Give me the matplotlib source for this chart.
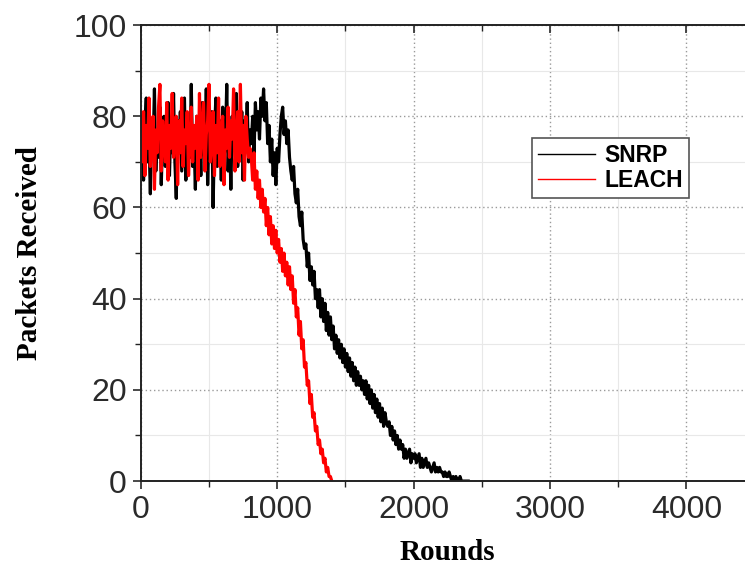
import matplotlib
matplotlib.use("Agg")
import matplotlib.pyplot as plt
from matplotlib.ticker import MultipleLocator
from matplotlib.lines import TICKDOWN

# ---- data ----
rounds_snrp = list(range(0, 2410, 10))
snrp = [
    72, 80, 66, 78, 84, 70, 75, 63, 79, 73,
    86, 68, 77, 71, 82, 65, 76, 80, 69, 74,
    83, 67, 78, 72, 85, 70, 62, 79, 74, 81,
    68, 76, 84, 66, 73, 79, 71, 87, 69, 75,
    64, 80, 72, 78, 67, 83, 74, 70, 86, 65,
    77, 73, 81, 60, 76, 84, 69, 75, 79, 66,
    82, 71, 74, 87, 68, 78, 64, 80, 73, 77,
    85, 69, 76, 72, 81, 66, 79, 74, 83, 70,
    77,
    74, 80, 72, 83, 77, 81, 75, 84, 80, 86,
    79, 83, 74, 78, 70, 75, 67, 72, 65, 73,
    70, 76, 80, 82, 76, 79, 74, 77, 71, 68,
    66, 69, 63, 61, 64, 58, 56, 59, 53, 51,
    52, 47, 50, 44, 47, 43, 46, 40, 42, 38,
    42, 36, 40, 35, 39, 33, 37, 32, 36, 31,
    34, 29, 32, 28, 31, 27, 30, 26, 29, 25,
    28, 24, 27, 23, 26, 22, 25, 21, 24, 21,
    23, 20, 22, 19, 22, 18, 21, 17, 20, 16,
    19, 15, 18, 14, 17, 13, 16, 12, 15, 13,
    12, 13, 10, 12, 9, 11, 8, 10, 7, 9,
    7, 8, 5, 7, 5, 6, 7, 4, 6, 5,
    6, 4, 5, 6, 3, 5, 3, 4, 5, 3,
    4, 3, 2, 3, 4, 2, 3, 2, 3, 2,
    2, 1, 2, 1, 1, 2, 1, 0, 1, 0,
    1, 0, 0, 1, 0, 0, 0, 0, 0, 0,
]

rounds_leach = list(range(0, 1410, 10))
leach = [
    76, 70, 81, 67, 78, 73, 84, 69, 75, 80,
    64, 77, 72, 82, 87, 68, 79, 74, 70, 83,
    66, 78, 73, 85, 71, 76, 80, 65, 79, 72,
    84, 69, 77, 74, 81, 67, 75, 82, 70, 78,
    73, 80, 66, 85, 71, 77, 83, 68, 76, 79,
    87, 70, 74, 81, 67, 78, 72, 84, 69, 76,
    80, 65, 77, 73, 82, 71, 79, 75, 86, 68,
    74, 81, 70, 87, 72, 78, 66, 80, 75, 71,
    73,
    71, 66, 72, 64, 68, 62, 66, 60, 64, 59,
    62, 56, 60, 54, 58, 52, 56, 51, 55, 50,
    53, 48, 51, 46, 50, 45, 48, 43, 47, 42,
    45, 39, 42, 36, 38, 32, 35, 29, 31, 25,
    26, 21, 22, 17, 19, 14, 15, 11, 12, 8,
    9, 6, 7, 4, 5, 2, 3, 1, 1, 0,
]

x_ticks = [0, 1000, 2000, 3000, 4000]
y_ticks = [0, 20, 40, 60, 80, 100]

# ---- figure ----
fig = plt.figure(figsize=(7.45, 5.70), dpi=100)
ax = fig.add_axes([0.189, 0.156, 0.824, 0.80])

ax.plot(rounds_snrp, snrp, color="black", lw=2.3, label="SNRP", zorder=3)
ax.plot(rounds_leach, leach, color="#ff0000", lw=2.3, label="LEACH", zorder=4)

ax.set_xlim(0, 4500)
ax.set_ylim(0, 100)
ax.set_xticks(x_ticks)
ax.set_yticks(y_ticks)
ax.xaxis.set_minor_locator(MultipleLocator(500))
ax.yaxis.set_minor_locator(MultipleLocator(10))

ax.grid(which="major", color="#9a9a9a", linestyle=(0, (1, 2)), lw=1.0, zorder=0)
ax.grid(which="minor", color="#e8e8e8", linestyle="-", lw=0.8, zorder=0)

for s in ["left", "bottom", "top"]:
    ax.spines[s].set_linewidth(1.4)
    ax.spines[s].set_color("#222222")
    ax.spines[s].set_zorder(6)
ax.spines["right"].set_visible(False)

ax.tick_params(axis="both", which="major", direction="out", length=6, width=1.2,
               labelsize=23, colors="#2a2a2a", pad=4)
ax.tick_params(axis="both", which="minor", direction="out", length=4, width=1.0,
               colors="#222222")
ax.tick_params(axis="x", which="both", top=True)
for t in ax.get_xticklabels() + ax.get_yticklabels():
    t.set_family("Liberation Sans")
for tick in ax.xaxis.get_major_ticks() + ax.xaxis.get_minor_ticks():
    tick.tick2line.set_marker(TICKDOWN)

ax.set_xlabel("Rounds", family="Liberation Serif", fontweight="bold",
              fontsize=21, labelpad=10)
ax.set_ylabel("Packets Received", family="Liberation Serif", fontweight="bold",
              fontsize=21, labelpad=22)

leg = ax.legend(loc="upper left", bbox_to_anchor=(0.638, 0.752), frameon=True,
                fancybox=False, edgecolor="#555555", framealpha=1,
                prop={"family": "Liberation Sans", "weight": "bold", "size": 16.5},
                handlelength=2.5, handletextpad=0.4, borderpad=0.25,
                labelspacing=0.1, borderaxespad=0)
leg.get_frame().set_linewidth(1.2)
for l in leg.get_lines():
    l.set_linewidth(1.0)

fig.savefig("out.png", dpi=100)
